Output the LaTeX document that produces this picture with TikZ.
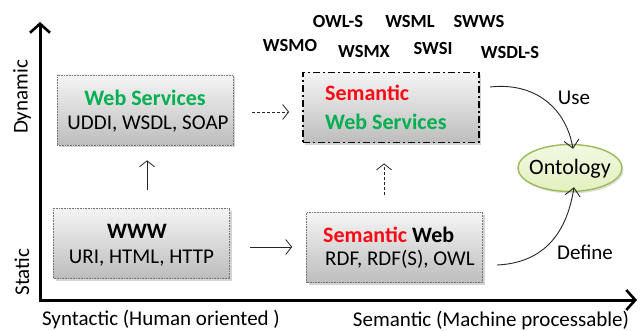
\documentclass[tikz,border=0pt]{standalone}
\usepackage{fontspec}
\setmainfont{Carlito}
\usetikzlibrary{arrows.meta,shadows,shapes.geometric}
\definecolor{wsgreen}{RGB}{0,176,80}
\definecolor{semred}{RGB}{250,10,20}
\definecolor{ontfill}{RGB}{226,240,190}
\definecolor{ontline}{RGB}{155,187,89}
\begin{document}
\begin{tikzpicture}[x=1pt,y=-1pt,
  txt/.style={font=\fontsize{21}{24}\selectfont, inner sep=0pt},
  btxt/.style={font=\fontsize{22}{24}\selectfont\bfseries, inner sep=0pt},
  tag/.style={font=\fontsize{18.5}{20}\selectfont\bfseries, inner sep=0pt},
  techbox/.style={draw=black!55, densely dotted, line width=0.6pt,
    top color=black!4, bottom color=black!26,
    minimum width=176pt, minimum height=70pt, inner sep=0pt,
    drop shadow={shadow xshift=2pt, shadow yshift=-2.5pt, opacity=0.35}},
  swsbox/.style={techbox, draw=black, solid, line width=1.8pt,
    dash pattern=on 7pt off 3pt on 2pt off 3pt},
  ontnode/.style={ellipse, draw=ontline, line width=1.4pt,
    top color=ontfill!45, bottom color=ontfill,
    minimum width=104pt, minimum height=47pt, inner sep=0pt,
    drop shadow={shadow xshift=1.5pt, shadow yshift=-2pt, opacity=0.25}},
  arr/.style={-{Straight Barb[length=6pt,width=15pt]}, line width=0.8pt, draw=black!85},
  darr/.style={arr, densely dashed},
  cur/.style={-{Straight Barb[length=8pt,width=15pt]}, line width=0.9pt, draw=black!85},
  axis/.style={line width=3pt, -{Straight Barb[length=9pt,width=20pt,line width=2.6pt]}}
]
\useasboundingbox (0,0) rectangle (642,331);

% axes
\coordinate (origin) at (40,300);
\coordinate (ytop) at (40,22);
\coordinate (xend) at (637,300);
\draw[axis] ([yshift=1.5pt]origin) -- (ytop);
\draw[axis] ([xshift=-1.5pt]origin) -- (xend);

\node[txt, rotate=90] (dyn) at (22,97) {Dynamic};
\node[txt, rotate=90] (sta) at (22,272) {Static};
\node[txt] (syn) at (161,320) {Syntactic (Human oriented )};
\node[txt] (sem) at (491,321) {Semantic (Machine processable)};

% technology boxes
\node[techbox] (ws) at (145,110) {};
\node[btxt, text=wsgreen] (wst) at (145,98) {Web Services};
\node[txt] (wsl) at (148,124) {UDDI, WSDL, SOAP};

\node[techbox] (www) at (141.5,243) {};
\node[btxt] (wwwt) at (137,231) {WWW};
\node[txt] (wwwl) at (141.5,258) {URI, HTML, HTTP};

\node[swsbox] (sws) at (391,107.5) {};
\node[btxt, text=semred, anchor=west] (swst) at (325,93) {Semantic};
\node[btxt, text=wsgreen, anchor=west] (swsl) at (325,122) {Web Services};

\node[techbox] (sw) at (394.5,247.5) {};
\node[btxt, anchor=west] (swt) at (323,235) {\textcolor{semred}{Semantic} Web};
\node[txt, anchor=west] (swl) at (325,259) {RDF, RDF(S), OWL};

\node[ontnode] (ont) at (570,168) {};
\node[txt, font=\fontsize{22}{24}\selectfont] (ontt) at (570,169) {Ontology};

% languages and frameworks
\node[tag] (owls) at (338,22) {OWL-S};
\node[tag] (wsml) at (410,22) {WSML};
\node[tag] (swws) at (479,22) {SWWS};
\node[tag] (wsmo) at (290,45) {WSMO};
\node[tag] (wsmx) at (364,51) {WSMX};
\node[tag] (swsi) at (433,48) {SWSI};
\node[tag] (wsdls) at (510,52) {WSDL-S};

% connectors
\draw[arr, shorten <=18pt, shorten >=15pt] (www.north -| 147,0) -- (ws.south -| 147,0);
\draw[arr, shorten <=20pt, shorten >=14pt] (www.east |- 0,247) -- (sw.west |- 0,247);
\draw[darr, shorten <=19pt, shorten >=13pt] (ws.east |- 0,112) -- (sws.west |- 0,112);
\draw[darr, shorten <=17pt, shorten >=20pt] (sw.north -| 384,0) -- (sws.south -| 384,0);

\coordinate (usestart) at (490,87);
\coordinate (defstart) at (497,265);
\draw[cur] (usestart) .. controls (535,82) and (566,108) .. ([xshift=3pt,yshift=-5pt]ont.north);
\draw[cur] (defstart) .. controls (540,263) and (566,238) .. ([xshift=4pt,yshift=5pt]ont.south);
\node[txt] (use) at (574,98) {Use};
\node[txt] (def) at (585,252) {Define};
\end{tikzpicture}
\end{document}
